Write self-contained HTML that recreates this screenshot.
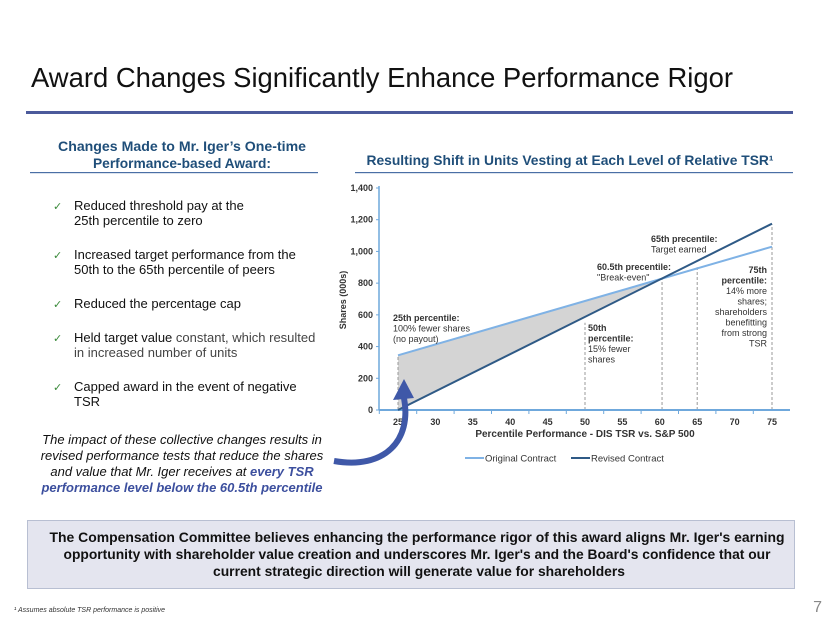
<!DOCTYPE html>
<html><head><meta charset="utf-8"><style>
body{margin:0;background:#fff;}
svg{display:block;font-family:"Liberation Sans",sans-serif;}
</style></head><body>
<svg width="830" height="623" viewBox="0 0 830 623">
<text x="31" y="87" font-size="28" fill="#111" textLength="702" lengthAdjust="spacingAndGlyphs">Award Changes Significantly Enhance Performance Rigor</text>
<rect x="26" y="111" width="767" height="3" fill="#4b5a9b"/>

<g fill="#1f4e79" font-weight="bold" font-size="14">
<text x="182" y="151" text-anchor="middle" textLength="248" lengthAdjust="spacingAndGlyphs">Changes Made to Mr. Iger’s One-time</text>
<text x="182" y="168" text-anchor="middle" textLength="178" lengthAdjust="spacingAndGlyphs">Performance-based Award:</text>
</g>
<rect x="30" y="172" width="288" height="1.2" fill="#4a6fa5"/>
<g font-size="13" fill="#111">
<text x="53" y="210" fill="#3a8a3a" font-size="11">✓</text><text x="74" y="210">Reduced threshold pay at the</text><text x="74" y="225">25th percentile to zero</text>
<text x="53" y="259" fill="#3a8a3a" font-size="11">✓</text><text x="74" y="259">Increased target performance from the</text><text x="74" y="274">50th to the 65th percentile of peers</text>
<text x="53" y="308" fill="#3a8a3a" font-size="11">✓</text><text x="74" y="308">Reduced the percentage cap</text>
<text x="53" y="342" fill="#3a8a3a" font-size="11">✓</text><text x="74" y="342">Held target value <tspan fill="#444">constant, which resulted</tspan></text><text x="74" y="357" fill="#444">in increased number of units</text>
<text x="53" y="391" fill="#3a8a3a" font-size="11">✓</text><text x="74" y="391">Capped award in the event of negative</text><text x="74" y="406">TSR</text>
</g>
<g font-size="13" font-style="italic" text-anchor="middle" fill="#111">
<text x="182" y="444">The impact of these collective changes results in</text>
<text x="182" y="460">revised performance tests that reduce the shares</text>
<text x="182" y="476">and value that Mr. Iger receives at <tspan fill="#3c4f9e" font-weight="bold">every TSR</tspan></text>
<text x="182" y="492" fill="#3c4f9e" font-weight="bold">performance level below the 60.5th percentile</text>
</g>

<text x="570" y="165" text-anchor="middle" font-size="14" font-weight="bold" fill="#1f4e79" textLength="407" lengthAdjust="spacingAndGlyphs">Resulting Shift in Units Vesting at Each Level of Relative TSR¹</text>
<rect x="355" y="172" width="438" height="1.2" fill="#4a6fa5"/>

<g id="chart"></g>

<path d="M334 461 C 385 470, 412 440, 404 398" fill="none" stroke="#3f58a8" stroke-width="6"/>
<polygon points="393,400 414,398 404,379" fill="#3f58a8"/>

<rect x="27.5" y="520.5" width="767" height="68" fill="#e4e5ef" stroke="#b8bfd2"/>
<g font-size="14" font-weight="bold" fill="#111" text-anchor="middle">
<text x="417" y="542" textLength="735" lengthAdjust="spacingAndGlyphs">The Compensation Committee believes enhancing the performance rigor of this award aligns Mr. Iger's earning</text>
<text x="417" y="559" textLength="707" lengthAdjust="spacingAndGlyphs">opportunity with shareholder value creation and underscores Mr. Iger's and the Board's confidence that our</text>
<text x="419" y="576" textLength="412" lengthAdjust="spacingAndGlyphs">current strategic direction will generate value for shareholders</text>
</g>
<text x="14" y="612" font-size="7" font-style="italic" fill="#333">¹ Assumes absolute TSR performance is positive</text>
<text x="822" y="612" font-size="16" fill="#888" text-anchor="end">7</text>
</svg>
<script>
const xTicks=[25,30,35,40,45,50,55,60,65,70,75];
const yTicks=[0,200,400,600,800,1000,1200,1400];
const yTickLabels=["0","200","400","600","800","1,000","1,200","1,400"];
const percentiles=[25,75];
const originalShares=[345,1030];
const revisedShares=[0,1175];
const markerX=[25,50,60.3,65,75];
const markerTop=[345,550,830,900,1170];
const NS="http://www.w3.org/2000/svg";
const g=document.getElementById('chart');
const X=v=>398+(v-25)*(772-398)/50;
const Y=v=>410-v*222/1400;
function el(t,a,txt){const e=document.createElementNS(NS,t);for(const k in a)e.setAttribute(k,a[k]);if(txt!=null)e.textContent=txt;g.appendChild(e);return e;}
const fill=el('polygon',{points:`${X(25)},${Y(originalShares[0])} ${X(60.5)},${Y(345+35.5*(1030-345)/50)} ${X(25)},${Y(revisedShares[0])}`,fill:'#d4d4d4'});


markerX.forEach((m,i)=>{const l=el('line',{x1:X(m),x2:X(m),y1:Y(0),y2:Y(markerTop[i]),stroke:'#999','stroke-dasharray':'3,2','stroke-width':1});

});
const ya=el('line',{x1:379,x2:379,y1:186,y2:410,stroke:'#6fa8dc','stroke-width':1.5});


const xa=el('line',{x1:379,x2:790,y1:410,y2:410,stroke:'#6fa8dc','stroke-width':2});


yTicks.forEach((t,i)=>{el('line',{x1:376,x2:379,y1:Y(t),y2:Y(t),stroke:'#6fa8dc'});
const tx=el('text',{x:373,y:Y(t)+3,'font-size':9,'font-weight':'bold','text-anchor':'end',fill:'#333'},yTickLabels[i]);

});
xTicks.forEach(t=>{el('line',{x1:X(t)-18.7,x2:X(t)-18.7,y1:410,y2:414,stroke:'#6fa8dc'});
const tx=el('text',{x:X(t),y:425,'font-size':9,'font-weight':'bold','text-anchor':'middle',fill:'#333'},t);

});
const xt=el('text',{x:585,y:437,'font-size':10,'font-weight':'bold','text-anchor':'middle',fill:'#333'},'Percentile Performance - DIS TSR vs. S&P 500');


const yt=el('text',{x:0,y:0,'font-size':9,'font-weight':'bold','text-anchor':'middle',fill:'#333',transform:'translate(346,300) rotate(-90)'},'Shares (000s)');


const lo=el('polyline',{points:percentiles.map((p,i)=>X(p)+','+Y(originalShares[i])).join(' '),fill:'none',stroke:'#7fb2e5','stroke-width':2});


const lr=el('polyline',{points:percentiles.map((p,i)=>X(p)+','+Y(revisedShares[i])).join(' '),fill:'none',stroke:'#2f5a86','stroke-width':2});


function ann(x,y,lines,anchor,bold){lines.forEach((s,i)=>{const t=el('text',{x:x,y:y+i*10.5,'font-size':9,'font-weight':i<bold?'bold':'normal','text-anchor':anchor,fill:'#333'},s);

});}
ann(393,321,['25th percentile:','100% fewer shares','(no payout)'],'start',1);
ann(588,331,['50th','percentile:','15% fewer','shares'],'start',2);
ann(597,270,['60.5th precentile:','"Break-even"'],'start',1);
ann(651,242,['65th precentile:','Target earned'],'start',1);
ann(767,273,['75th','percentile:','14% more','shares;','shareholders','benefitting','from strong','TSR'],'end',2);
const l1=el('line',{x1:465,x2:484,y1:458,y2:458,stroke:'#7fb2e5','stroke-width':2});


const t1=el('text',{x:485,y:461.5,'font-size':9.5,fill:'#333'},'Original Contract');


const l2=el('line',{x1:571,x2:590,y1:458,y2:458,stroke:'#2f5a86','stroke-width':2});


const t2=el('text',{x:591,y:461.5,'font-size':9.5,fill:'#333'},'Revised Contract');


</script>
</body></html>
